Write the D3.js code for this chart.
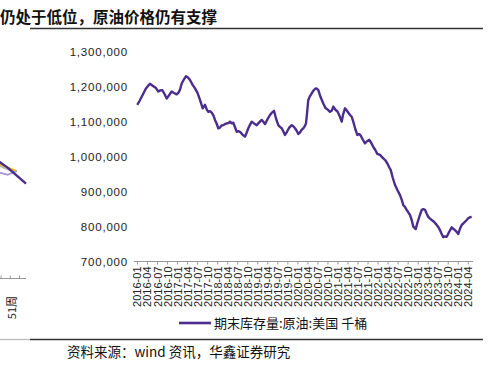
<!DOCTYPE html>
<html><head><meta charset="utf-8">
<script src="https://cdn.jsdelivr.net/npm/d3@7"></script>
<style>
html,body{margin:0;padding:0;background:#fff;}
svg{display:block;}
</style></head>
<body>
<svg id="c" width="502" height="369"></svg>
<script>
// ---- data ----
const times = [2016.007,2016.062,2016.117,2016.175,2016.224,2016.274,2016.324,2016.399,2016.474,2016.531,2016.574,2016.631,2016.686,2016.741,2016.798,2016.865,2016.923,2016.990,
2017.035,2017.072,2017.115,2017.172,2017.222,2017.272,2017.322,2017.384,2017.447,2017.509,2017.571,2017.639,2017.696,2017.738,2017.778,2017.821,2017.863,2017.908,2017.945,2017.988,
2018.028,2018.070,2018.107,2018.152,2018.195,2018.237,2018.282,2018.319,2018.362,2018.402,2018.444,2018.487,2018.531,2018.569,2018.631,2018.693,2018.736,2018.776,2018.818,2018.861,2018.918,2018.985,
2019.043,2019.110,2019.155,2019.192,2019.255,2019.317,2019.367,2019.417,2019.467,2019.524,2019.566,2019.609,2019.654,2019.691,2019.741,2019.791,2019.858,2019.903,2019.940,2019.983,
2020.023,2020.065,2020.108,2020.148,2020.190,2020.215,2020.245,2020.272,2020.315,2020.357,2020.402,2020.457,2020.489,2020.522,2020.576,2020.646,2020.701,2020.771,2020.813,2020.856,2020.895,2020.950,
2021.000,2021.050,2021.105,2021.137,2021.187,2021.250,2021.312,2021.354,2021.394,2021.444,2021.494,2021.537,2021.579,2021.631,2021.686,2021.736,2021.794,2021.843,2021.893,2021.943,2021.993,
2022.060,2022.143,2022.198,2022.242,2022.292,2022.327,2022.380,2022.435,2022.497,2022.559,2022.601,2022.641,2022.684,2022.726,2022.766,2022.809,2022.851,2022.891,2022.951,2022.983,
2023.016,2023.058,2023.101,2023.141,2023.183,2023.225,2023.265,2023.307,2023.350,2023.407,2023.474,2023.514,2023.557,2023.599,2023.639,2023.682,2023.724,2023.781,2023.848,2023.888,2023.931,2023.973,
2024.013,2024.055,2024.098,2024.138,2024.180,2024.222,2024.262,2024.304,2024.347];
const stocks = [1149,1160,1172,1185,1196,1203,1209,1203,1197,1187,1190,1191,1180,1167,1176,1187,1183,1179,
1184,1192,1210,1222,1231,1227,1220,1207,1196,1183,1163,1139,1149,1136,1129,1131,1127,1118,1106,1095,
1082,1084,1090,1091,1094,1096,1097,1101,1096,1098,1085,1072,1074,1072,1064,1058,1070,1082,1092,1101,1096,1091,
1098,1106,1100,1094,1108,1120,1127,1132,1110,1091,1086,1082,1072,1063,1072,1083,1091,1087,1082,1075,
1066,1070,1078,1082,1089,1096,1130,1163,1174,1182,1190,1196,1195,1191,1172,1153,1140,1134,1129,1132,1144,1135,
1130,1118,1101,1120,1139,1130,1120,1115,1101,1080,1063,1066,1061,1050,1039,1045,1049,1040,1029,1020,1009,
1006,996,990,982,970,963,940,920,905,891,878,863,857,849,842,834,820,801,794,808,
820,835,849,851,849,838,829,824,820,815,806,800,791,780,771,773,772,785,799,795,791,786,
780,795,806,810,815,820,825,828,829].map(v => v * 1000);
const xTickLabels = ["2016-01","2016-04","2016-07","2016-10","2017-01","2017-04","2017-07","2017-10",
"2018-01","2018-04","2018-07","2018-10","2019-01","2019-04","2019-07","2019-10",
"2020-01","2020-04","2020-07","2020-10","2021-01","2021-04","2021-07","2021-10",
"2022-01","2022-04","2022-07","2022-10","2023-01","2023-04","2023-07","2023-10","2024-01","2024-04"];
const yTickValues = [700000,800000,900000,1000000,1100000,1200000,1300000];
const seriesName = "期末库存量:原油:美国 千桶";
const titleText = "仍处于低位，原油价格仍有支撑";
const sourceText = "资料来源：wind 资讯，华鑫证券研究";
// partial neighbouring chart (cut off at left edge)
const leftWeeks = [47,48,49,50,51,52];
const leftPurple = [1.30,1.24,1.16,1.08,0.98,0.88];
const leftYellow = [1.25,1.20,1.14,1.08,1.03,null];
const leftGrey = [1.20,1.16,1.11,1.06,1.03,null];
const leftLavender = [null,null,1.02,0.99,1.04,null];
const leftTickWeeks = [48,49,50,51,52];
const leftLabel = "51周";

// ---- drawing ----
const svg = d3.select("#c");
const cjk = "'Noto Sans CJK SC','Noto Sans CJK JP',sans-serif";
const lat = "'Liberation Sans',Arial,sans-serif";

const x = d3.scaleLinear().domain([2016, 2024.25]).range([137, 467.8]);
const y = d3.scaleLinear().domain([700000, 1300000]).range([262, 52]);
const parseLab = s => +s.slice(0,4) + (+s.slice(5,7) - 1) / 12;

// title
svg.append("text").attr("x", 0).attr("y", 23).attr("font-family", cjk)
  .attr("font-size", 15.5).attr("font-weight", "bold").attr("fill", "#111").text(titleText);
// rules
svg.append("line").attr("x1", 30).attr("x2", 483).attr("y1", 28.5).attr("y2", 28.5)
  .attr("stroke", "#333").attr("stroke-width", 1.3);
svg.append("line").attr("x1", 0).attr("x2", 30).attr("y1", 339.5).attr("y2", 339.5)
  .attr("stroke", "#bbb").attr("stroke-width", 1.3);
svg.append("line").attr("x1", 30).attr("x2", 483).attr("y1", 339.5).attr("y2", 339.5)
  .attr("stroke", "#333").attr("stroke-width", 1.3);

// y axis labels
const yAxis = d3.axisLeft(y).tickValues(yTickValues).tickSize(0).tickPadding(0)
  .tickFormat(d3.format(","));
const gy = svg.append("g").attr("transform", "translate(128,0)").call(yAxis);
gy.select(".domain").remove();
gy.selectAll("text").attr("font-family", lat).attr("font-size", 11.5)
  .attr("letter-spacing", "0.8px").attr("fill", "#222");

// x axis
const xAxis = d3.axisBottom(x).tickValues(xTickLabels.map(parseLab)).tickSize(3)
  .tickFormat((d, i) => xTickLabels[i]);
const gx = svg.append("g").attr("transform", "translate(0,261.5)").call(xAxis);
gx.select(".domain").remove();
gx.append("line").attr("x1", 134).attr("x2", 473).attr("stroke", "#999");
gx.selectAll(".tick line").attr("stroke", "#999");
gx.selectAll(".tick text").attr("font-family", lat).attr("font-size", 11).attr("fill", "#222")
  .attr("transform", "rotate(-90)").attr("text-anchor", "end")
  .attr("x", -5).attr("y", 0).attr("dy", "0.36em");

// series line
const line = d3.line().x(d => x(d[0])).y(d => y(d[1])).curve(d3.curveLinear);
svg.append("path").datum(times.map((t, i) => [t, stocks[i]]))
  .attr("d", line).attr("fill", "none").attr("stroke", "#4a2d8c")
  .attr("stroke-width", 2.4).attr("stroke-linejoin", "round");

// legend
svg.append("line").attr("x1", 179).attr("x2", 211).attr("y1", 323).attr("y2", 323)
  .attr("stroke", "#4a2d8c").attr("stroke-width", 2.6);
svg.append("text").attr("x", 214).attr("y", 328).attr("font-family", cjk)
  .attr("font-size", 13).attr("fill", "#111").text(seriesName);

// source
svg.append("text").attr("x", 67).attr("y", 357).attr("font-family", cjk)
  .attr("font-size", 13.5).attr("fill", "#111").text(sourceText);

// partial left chart
const lx = d3.scaleLinear().domain([47, 52]).range([-20, 26]);
const ly = d3.scaleLinear().domain([0.8, 1.3]).range([190, 150]);
const lline = d3.line().defined(d => d[1] != null).x(d => lx(d[0])).y(d => ly(d[1]));
[[leftGrey, "#b5b5b5", 2], [leftYellow, "#f2b800", 2.2], [leftLavender, "#a99bd6", 2], [leftPurple, "#4a2d8c", 2.4]]
  .forEach(([vals, col, w]) => {
    svg.append("path").datum(leftWeeks.map((wk, i) => [wk, vals[i]]))
      .attr("d", lline).attr("fill", "none").attr("stroke", col).attr("stroke-width", w);
  });
const lg = svg.append("g").attr("transform", "translate(0,278.5)");
lg.append("line").attr("x1", 0).attr("x2", 26).attr("stroke", "#999");
lg.selectAll(".lt").data(leftTickWeeks).join("line").attr("class", "lt")
  .attr("x1", d => lx(d) - 6.5).attr("x2", d => lx(d) - 6.5).attr("y1", 0).attr("y2", -3).attr("stroke", "#999");
svg.append("text").attr("transform", `translate(${lx(51) - 5},296) rotate(-90)`)
  .attr("text-anchor", "end").attr("dy", "0.36em").attr("font-family", cjk)
  .attr("font-size", 11).attr("fill", "#222").text(leftLabel);
</script>
</body></html>
